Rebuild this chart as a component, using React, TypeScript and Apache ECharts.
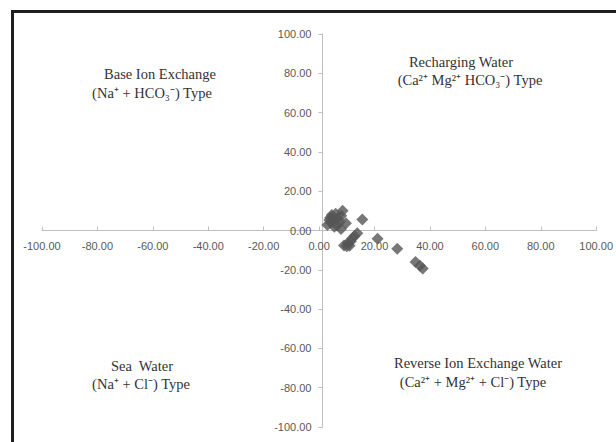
import React, { useEffect, useRef } from "react";
import * as echarts from "echarts";

// Sample points
const pointX = [3.0, 3.7, 4.6, 5.5, 6.7, 8.5, 9.7, 7.9, 4.2, 6.0, 5.0, 7.5, 8.0, 6.5, 4.0, 15.6, 13.8, 12.8, 12.0, 11.5, 10.3, 9.0, 10.0, 11.0, 21.1, 28.2, 34.8, 36.4, 37.4];
const pointY = [2.8, 5.3, 7.9, 1.9, 6.2, 10.0, 3.7, 0.8, 4.0, 8.5, 5.5, 4.5, 7.5, 2.5, 6.5, 5.6, -1.4, -2.8, -4.0, -5.5, -6.5, -7.6, -8.0, -7.8, -4.2, -9.3, -16.0, -18.0, -19.3];

const axisMin = -100;
const axisMax = 100;
const axisStep = 20;

const quadrantTitles = ["Base Ion Exchange", "Recharging Water", "Sea  Water", "Reverse Ion Exchange Water"];
const quadrantTypes = ["(Na⁺ + HCO₃⁻) Type", "(Ca²⁺ Mg²⁺ HCO₃⁻) Type", "(Na⁺ + Cl⁻) Type", "(Ca²⁺ + Mg²⁺ + Cl⁻) Type"];

const W = 616;
const H = 442;
const GRID = { left: 42, right: 13, top: 34, bottom: 15 };

export default function App() {
  const ref = useRef<HTMLDivElement>(null);
  useEffect(() => {
    if (!ref.current) return;
    const chart = echarts.init(ref.current, null, { renderer: "svg" });
    const data = pointX.map((x, i) => [x, pointY[i]]);
    const plotW = W - GRID.left - GRID.right;
    const plotH = H - GRID.top - GRID.bottom;
    const labelFont = {
      fontFamily: "Liberation Sans, Arial, sans-serif",
      fontSize: 11,
      color: "#595959",
    };
    const textStyle = (t: string, x: number, y: number) => ({
      type: "text",
      x,
      y,
      style: {
        text: t,
        fontFamily: "Liberation Serif, Times New Roman, serif",
        fontSize: 14.5,
        fill: "#333333",
        textAlign: "center",
        textVerticalAlign: "middle",
      },
    });
    const pos = [
      [160, 74, 152, 93],
      [461, 62, 470, 80],
      [142, 366, 141, 384],
      [478, 363, 473, 382],
    ];
    const graphics: any[] = [
      {
        type: "rect",
        shape: { x: 12.5, y: 11.5, width: 700, height: 500 },
        style: { fill: "none", stroke: "#1e1e1e", lineWidth: 3 },
        z: 10,
      },
    ];
    quadrantTitles.forEach((t, i) => {
      graphics.push(textStyle(t, pos[i][0], pos[i][1]));
      graphics.push(textStyle(quadrantTypes[i], pos[i][2], pos[i][3]));
    });
    chart.setOption({
      animation: false,
      backgroundColor: "#ffffff",
      grid: { ...GRID, containLabel: false },
      xAxis: {
        type: "value",
        min: axisMin,
        max: axisMax,
        interval: axisStep,
        position: "bottom",
        offset: -plotH / 2,
        axisLine: { onZero: false, lineStyle: { color: "#bfbfbf", width: 1 } },
        axisTick: { show: true, inside: true, length: 4, lineStyle: { color: "#bfbfbf" } },
        axisLabel: { ...labelFont, margin: 10, formatter: (v: number) => v.toFixed(2) },
        splitLine: { show: false },
      },
      yAxis: {
        type: "value",
        min: axisMin,
        max: axisMax,
        interval: axisStep,
        position: "left",
        offset: -plotW / 2,
        axisLine: { onZero: false, lineStyle: { color: "#bfbfbf", width: 1 } },
        axisTick: { show: true, inside: false, length: 4, lineStyle: { color: "#bfbfbf" } },
        axisLabel: { ...labelFont, margin: 11, formatter: (v: number) => v.toFixed(2) },
        splitLine: { show: false },
      },
      series: [
        {
          type: "scatter",
          data,
          symbol: "diamond",
          symbolSize: 12,
          itemStyle: { color: "#555555" },
        },
      ],
      graphic: graphics,
    });
    return () => chart.dispose();
  }, []);
  return (
    <div
      ref={ref}
      style={{ position: "fixed", left: 0, top: 0, width: W, height: H }}
    />
  );
}
